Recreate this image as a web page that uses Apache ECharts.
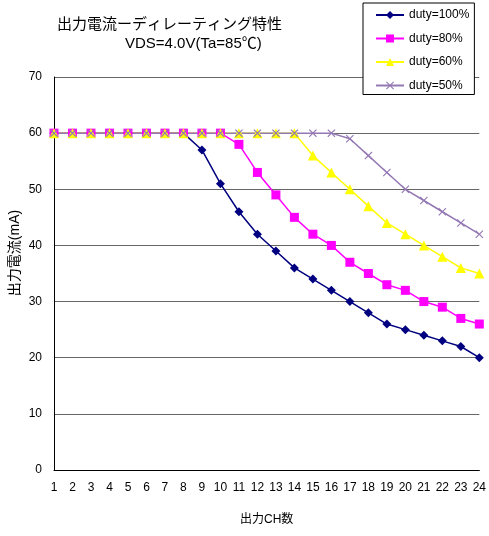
<!DOCTYPE html>
<html><head><meta charset="utf-8">
<script src="https://cdn.jsdelivr.net/npm/echarts@6/dist/echarts.min.js"></script>
<style>html,body{margin:0;padding:0;background:#fff}#c{width:489px;height:536px}</style>
</head><body><div id="c"></div>
<script>
var categories = ['1','2','3','4','5','6','7','8','9','10','11','12','13','14','15','16','17','18','19','20','21','22','23','24'];
var duty100 = [60,60,60,60,60,60,60,60,57,51,46,42,39,36,34,32,30,28,26,25,24,23,22,20];
var duty80  = [60,60,60,60,60,60,60,60,60,60,58,53,49,45,42,40,37,35,33,32,30,29,27,26];
var duty60  = [60,60,60,60,60,60,60,60,60,60,60,60,60,60,56,53,50,47,44,42,40,38,36,35];
var duty50  = [60,60,60,60,60,60,60,60,60,60,60,60,60,60,60,60,59,56,53,50,48,46,44,42];
var seriesNames = ['duty=100%','duty=80%','duty=60%','duty=50%'];
var yTicks = [0,10,20,30,40,50,60,70];

var font = 'Liberation Sans, Arial, Noto Sans CJK JP, sans-serif';
var crossPath = 'path://M0,1 L1,0 L5,4 L9,0 L10,1 L6,5 L10,9 L9,10 L5,6 L1,10 L0,9 L4,5 Z';
function mk(name, data, color, symbol, size) {
  return {
    name: name, type: 'line', data: data,
    symbol: symbol, symbolSize: size, showSymbol: true,
    lineStyle: {color: color, width: 1.5},
    itemStyle: {color: color},
    emphasis: {disabled: true},
    animation: false
  };
}
var chart = echarts.init(document.getElementById('c'), null, {renderer: 'canvas'});
chart.setOption({
  backgroundColor: '#fff',
  animation: false,
  title: [
    {text: '出力電流ーディレーティング特性', left: 52, top: 12,
     textStyle: {fontSize: 15, fontWeight: 'normal', color: '#000', fontFamily: font}},
    {text: 'VDS=4.0V(Ta=85℃)', left: 120, top: 31,
     textStyle: {fontSize: 15, fontWeight: 'normal', color: '#000', fontFamily: font}}
  ],
  legend: {
    orient: 'vertical', left: 363, top: 3,
    padding: [6, 5, 3, 12],
    itemWidth: 28, itemHeight: 10, itemGap: 11.5,
    borderColor: '#000', borderWidth: 1,
    backgroundColor: '#fff',
    textStyle: {fontSize: 12, color: '#000', fontFamily: font},
    data: seriesNames
  },
  grid: {left: 54, right: 8, top: 77, bottom: 66, containLabel: false},
  xAxis: {
    type: 'category', data: categories, boundaryGap: false,
    name: '出力CH数', nameLocation: 'middle', nameGap: 44,
    nameTextStyle: {fontSize: 12, color: '#000', fontFamily: font},
    axisLine: {lineStyle: {color: '#000', width: 1}},
    axisTick: {show: false},
    axisLabel: {interval: 0, fontSize: 12, color: '#000', margin: 12, fontFamily: font},
    splitLine: {show: false}
  },
  yAxis: {
    type: 'value', min: yTicks[0], max: yTicks[yTicks.length-1], interval: 10,
    axisLine: {show: true, lineStyle: {color: '#000', width: 1}},
    axisTick: {show: false},
    axisLabel: {fontSize: 12, color: '#000', margin: 12, fontFamily: font},
    splitLine: {show: true, lineStyle: {color: '#666', width: 1}}
  },
  graphic: [{
    type: 'text', x: 15, y: 253, rotation: Math.PI / 2,
    style: {text: '出力電流(mA)', fontSize: 14, fill: '#000', fontFamily: font,
            align: 'center', verticalAlign: 'middle'}
  }],
  series: [
    mk(seriesNames[0], duty100, '#000080', 'diamond', 9),
    mk(seriesNames[1], duty80, '#FF00FF', 'rect', 9),
    mk(seriesNames[2], duty60, '#FFFF00', 'triangle', 10),
    mk(seriesNames[3], duty50, '#9478B4', crossPath, 8)
  ]
});
</script></body></html>
